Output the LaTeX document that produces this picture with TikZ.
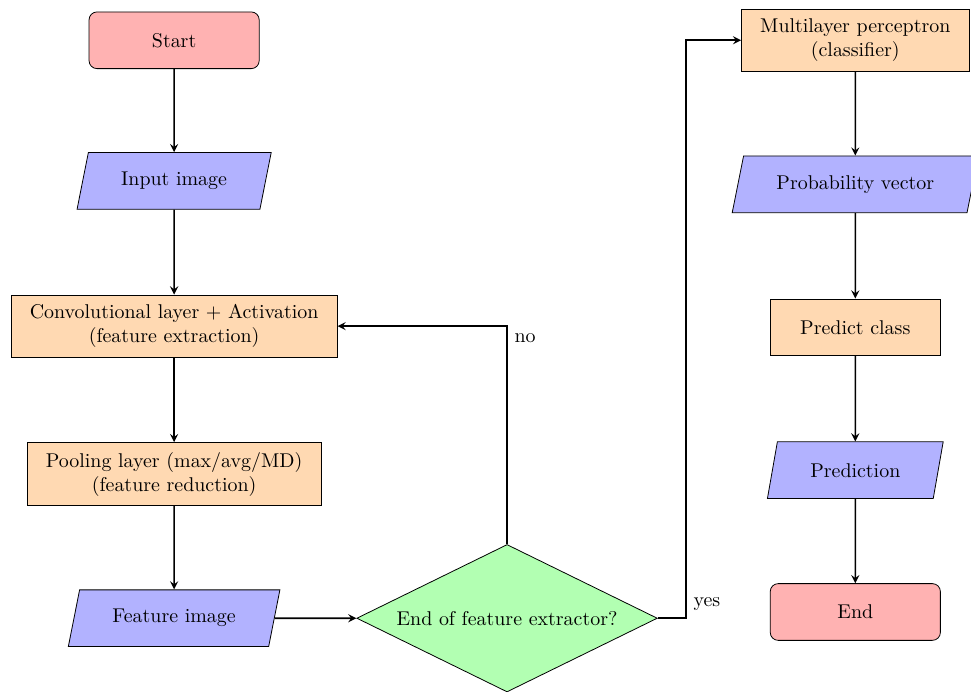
\documentclass[tikz,border=0pt]{standalone}
\usetikzlibrary{shapes.geometric, arrows}

\tikzset{
    startstop/.style={rectangle, rounded corners, minimum width=3cm, minimum height=1cm, text centered, draw=black, fill=red!30},
    io/.style={trapezium, trapezium stretches body=true, trapezium left angle=70, trapezium right angle=110, minimum height=1cm, inner xsep=0.58cm, text centered, draw=black, fill=blue!30},
    process/.style={rectangle, minimum width=3cm, minimum height=1cm, inner xsep=0.33cm, inner ysep=0.17cm, text centered, align=center, draw=black, fill=orange!30},
    decision/.style={diamond, aspect=2, minimum width=5.3cm, minimum height=2.6cm, inner sep=0pt, text centered, draw=black, fill=green!30},
    arrow/.style={thick, ->, >=stealth}
}

\begin{document}
\begin{tikzpicture}
                \useasboundingbox (0,-12.2) rectangle (17.12,0);
                \node (start) [startstop] at (3.07,-0.71) {Start};
                \node (inimg) [io] at (3.07,-3.19) {Input image};
                \node (conv) [process] at (3.07,-5.75) {Convolutional layer + Activation\\(feature extraction)};
                \node (pool) [process] at (3.07,-8.36) {Pooling layer (max/avg/MD)\\(feature reduction)};
                \node (featimg) [io] at (3.07,-10.90) {Feature image};
                \node (dec) [decision] at (8.94,-10.90) {End of feature extractor?};
                \node (mlp) [process] at (15.08,-0.71) {Multilayer perceptron\\(classifier)};
                \node (probvec) [io] at (15.08,-3.25) {Probability vector};
                \node (predclass) [process] at (15.08,-5.77) {Predict class};
                \node (pred) [io] at (15.08,-8.29) {Prediction};
                \node (stop) [startstop] at (15.08,-10.79) {End};
                \draw [arrow] (start) -- (inimg);
                \draw [arrow] (inimg) -- (conv);
                \draw [arrow] (conv) -- (pool);
                \draw [arrow] (pool) -- (featimg);
                \draw [arrow] (featimg) -- (dec);
                \draw [arrow] (dec.north) |- node[pos=0.5, below right] {no} (conv.east);
                \draw [arrow] (dec.east) -- ++(0.5,0) node[above right] {yes} |- (mlp.west);
                \draw [arrow] (mlp) -- (probvec);
                \draw [arrow] (probvec) -- (predclass);
                \draw [arrow] (predclass) -- (pred);
                \draw [arrow] (pred) -- (stop);
            \end{tikzpicture}
\end{document}
